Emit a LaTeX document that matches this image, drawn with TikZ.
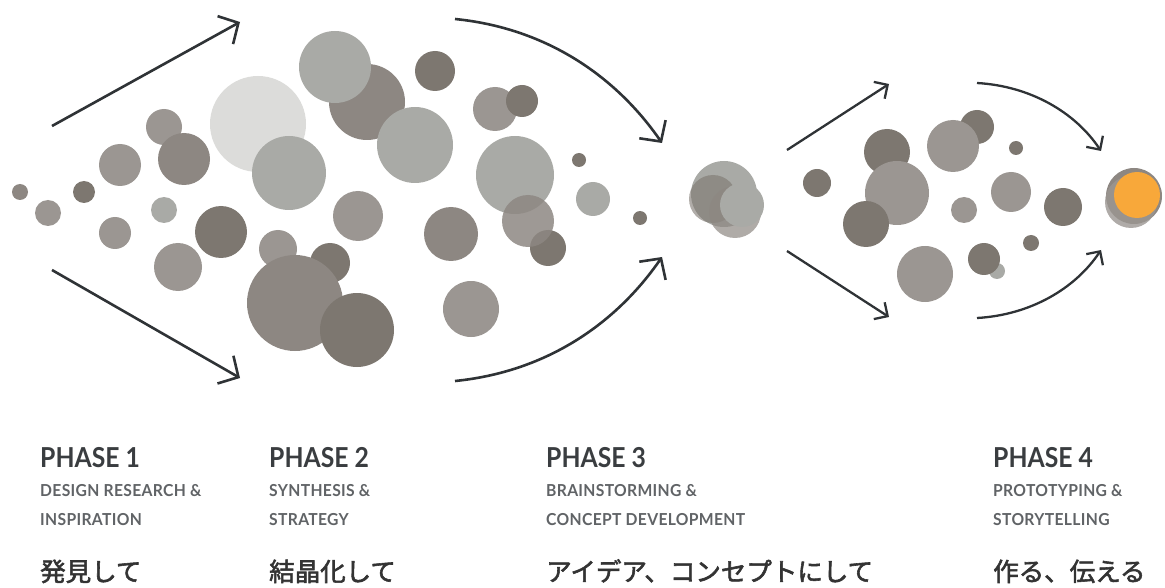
\documentclass[tikz,border=0pt]{standalone}
\usepackage{fontspec}
\setmainfont{Lato}
\newfontfamily\latot{Lato}[UprightFont=* Bold, FakeStretch=0.9]
\newfontfamily\latos{Lato}[UprightFont=* Bold, FakeStretch=0.95, LetterSpace=2]
\newfontfamily\jp{Noto Sans CJK JP}[FakeBold=2.2]
\usetikzlibrary{arrows.meta}
\definecolor{cA}{HTML}{DCDCDA}
\definecolor{cL}{HTML}{A9AAA6}
\definecolor{cM}{HTML}{9B9692}
\definecolor{cN}{HTML}{8D8782}
\definecolor{cD}{HTML}{7D7770}
\definecolor{cO}{HTML}{F8A83A}
\definecolor{ink}{HTML}{2F3336}
\definecolor{ttl}{HTML}{3A3D40}
\definecolor{sub}{HTML}{606366}
\definecolor{jpc}{HTML}{333333}
\tikzset{
  bigarrow/.style={draw=ink, line width=2.6pt, -{Straight Barb[length=15pt,width=32pt]}},
  smallarrow/.style={draw=ink, line width=2.3pt, -{Straight Barb[length=10pt,width=20pt]}},
  phasetitle/.style={anchor=base west, inner sep=0pt, text=ttl, font=\latot\fontsize{27.5}{27.5}\selectfont},
  phasesub/.style={anchor=base west, inner sep=0pt, text=sub, font=\latos\fontsize{16.5}{16.5}\selectfont},
  phasejp/.style={anchor=base west, inner sep=0pt, text=jpc, font=\jp\fontsize{25.5}{25.5}\selectfont},
}
\begin{document}
\begin{tikzpicture}[x=1pt,y=-1pt]
\useasboundingbox (0,0) rectangle (1165,588);
% ---- circles phase 1/2
\foreach \x/\y/\r/\c in {
  20/192/8/cN, 48/213/13/cM, 84/192/11/cD, 120/165/21/cM, 115/233/16/cM,
  164/127/18/cM, 184/159/26/cN, 164/210/13/cL, 221/232/26/cD, 178/267/24/cM,
  258/124/48/cA, 289/173/37/cL, 358/216/25/cM, 278/249/19/cM, 330/263/20/cD,
  295/303/48/cN, 357/330/37/cD, 367/102/38/cN, 335/67/36/cL, 415/145/38/cL,
  435/71/20/cD, 495/109/22/cM, 522/101/16/cD, 515/175/39/cL, 548/248/18/cD,
  451/234/27/cN, 471/309/28/cM, 579/160/7/cD, 593/199/17/cL, 640/218/7/cD}
  \fill[\c] (\x,\y) circle[radius=\r pt];
\fill[cN, opacity=0.85] (528,221) circle[radius=26pt];
% ---- cluster phase 3
\fill[cL] (724,194) circle[radius=33pt];
\fill[cD, opacity=0.6] (713,199) circle[radius=24pt];
\fill[cN, opacity=0.7] (735,212) circle[radius=26pt];
\fill[cL] (742,205) circle[radius=22pt];
% ---- circles phase 4
\foreach \x/\y/\r/\c in {
  817/183/14/cD, 887/152/23/cD, 897/193/32/cM, 866/224/23/cD,
  977/127/17/cD, 953/146/26/cM, 1016/148/7/cD, 1011/192/20/cM,
  964/210/13/cM, 1063/207/19/cD, 1031/243/8/cD, 997/271/8/cL,
  984/259/16/cD, 925/274/28/cM}
  \fill[\c] (\x,\y) circle[radius=\r pt];
% ---- orange result
\fill[cN] (1134,196) circle[radius=28pt];
\fill[cM, opacity=0.8] (1131,202) circle[radius=26pt];
\fill[cO] (1137,195) circle[radius=23pt];
% ---- arrow end points
\coordinate (a1s) at (52,126);  \coordinate (a1e) at (240,22);
\coordinate (a2s) at (52,270);  \coordinate (a2e) at (240,378);
\coordinate (a3s) at (455,19);  \coordinate (a3e) at (662,143);
\coordinate (a4s) at (455,381); \coordinate (a4e) at (662,257);
\coordinate (a5s) at (787,150); \coordinate (a5e) at (889,84);
\coordinate (a6s) at (787,251); \coordinate (a6e) at (889,317);
\coordinate (a7s) at (977,83);  \coordinate (a7e) at (1101,151);
\coordinate (a8s) at (977,318); \coordinate (a8e) at (1101,250);
\draw[bigarrow] (a1s) -- (a1e);
\draw[bigarrow] (a2s) -- (a2e);
\draw[bigarrow] (a3s) .. controls (545,28) and (615,75) .. (a3e);
\draw[bigarrow] (a4s) .. controls (545,372) and (615,325) .. (a4e);
\draw[smallarrow] (a5s) -- (a5e);
\draw[smallarrow] (a6s) -- (a6e);
\draw[smallarrow] (a7s) .. controls (1030,86) and (1075,112) .. (a7e);
\draw[smallarrow] (a8s) .. controls (1030,315) and (1075,289) .. (a8e);
% ---- texts
\node[phasetitle] (p1) at (40,467) {PHASE 1};
\node[phasesub] (p1a) at (40,496) {DESIGN RESEARCH \&};
\node[phasesub] (p1b) at (40,525) {INSPIRATION};
\node[phasejp] (p1j) at (40,581) {発見して};
\node[phasetitle] (p2) at (269,467) {PHASE 2};
\node[phasesub] (p2a) at (269,496) {SYNTHESIS \&};
\node[phasesub] (p2b) at (269,525) {STRATEGY};
\node[phasejp] (p2j) at (269,581) {結晶化して};
\node[phasetitle] (p3) at (546,467) {PHASE 3};
\node[phasesub] (p3a) at (546,496) {BRAINSTORMING \&};
\node[phasesub] (p3b) at (546,525) {CONCEPT DEVELOPMENT};
\node[phasejp] (p3j) at (546,581) {アイデア、コンセプトにして};
\node[phasetitle] (p4) at (993,467) {PHASE 4};
\node[phasesub] (p4a) at (993,496) {PROTOTYPING \&};
\node[phasesub] (p4b) at (993,525) {STORYTELLING};
\node[phasejp] (p4j) at (993,581) {作る、伝える};
\end{tikzpicture}
\end{document}
